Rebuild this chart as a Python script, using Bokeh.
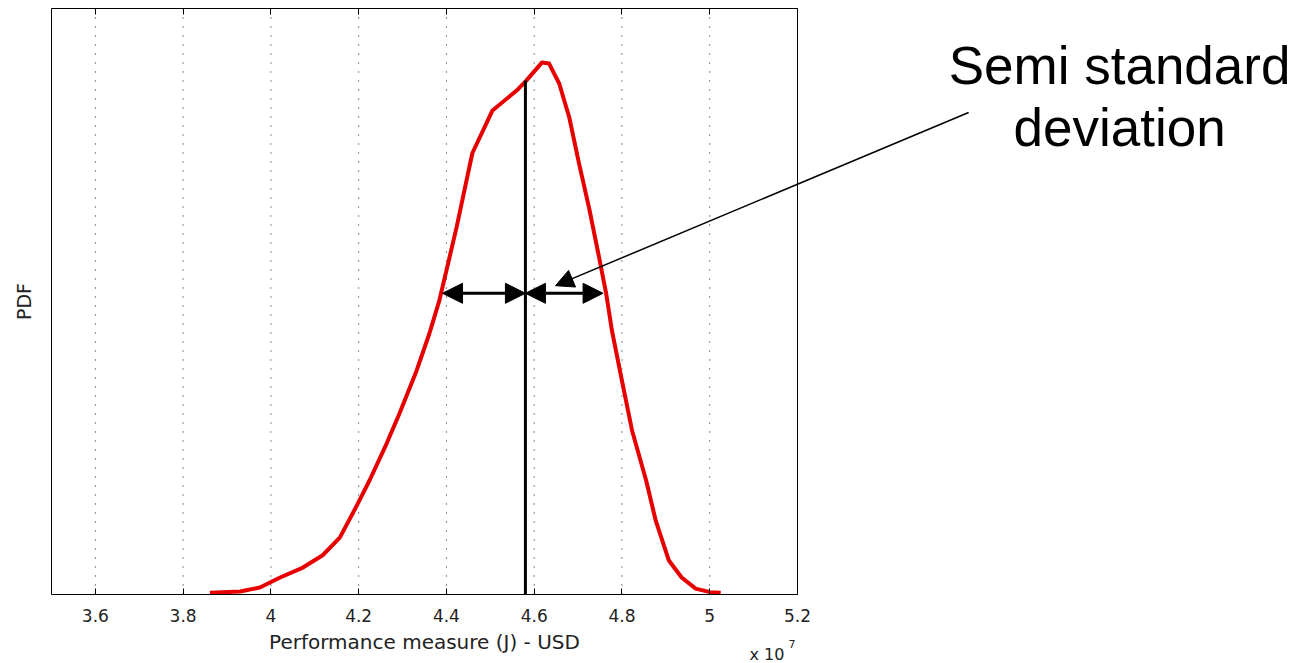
from bokeh.plotting import figure
from bokeh.models import (Range1d, LinearAxis, FixedTicker, Label, Arrow, NormalHead,
                          ColumnDataSource)
from bokeh.embed import file_html
from bokeh.resources import INLINE

# ---- data ----
pdf_x = [3.861, 3.930, 3.975, 4.021, 4.073, 4.118, 4.157, 4.196, 4.225, 4.264,
         4.293, 4.332, 4.361, 4.384, 4.423, 4.459, 4.505, 4.560, 4.582, 4.618,
         4.634, 4.657, 4.680, 4.702, 4.725, 4.748, 4.764, 4.777, 4.800, 4.823,
         4.855, 4.877, 4.907, 4.936, 4.968, 5.000, 5.025]
pdf_y = [0.003, 0.005, 0.012, 0.029, 0.046, 0.067, 0.097, 0.152, 0.195, 0.258,
         0.309, 0.382, 0.445, 0.502, 0.626, 0.753, 0.826, 0.860, 0.877, 0.908,
         0.906, 0.872, 0.814, 0.736, 0.660, 0.575, 0.514, 0.451, 0.365, 0.280,
         0.195, 0.126, 0.058, 0.029, 0.010, 0.004, 0.003]
mean_x = 4.58
mean_top = 0.877
arrow_y = 0.514
semi_left = 4.391
semi_right = 4.757
x_ticks = [3.6, 3.8, 4.0, 4.2, 4.4, 4.6, 4.8, 5.0, 5.2]
tick_labels = {3.6: "3.6", 3.8: "3.8", 4.0: "4", 4.2: "4.2", 4.4: "4.4",
               4.6: "4.6", 4.8: "4.8", 5.0: "5", 5.2: "5.2"}
x_lo, x_hi = 3.5, 5.2
y_lo, y_hi = 0.0, 1.0

AX_FONT = "DejaVu Sans"
ANN_FONT = "Liberation Sans"
TXT = "#222222"

# frame covers the whole canvas; the axes box is drawn with fixed-location axes
p = figure(width=1306, height=663, output_backend="svg", toolbar_location=None,
           x_range=Range1d(3.3838, 6.3600), y_range=Range1d(-0.11775, 1.01365),
           x_axis_location=None, y_axis_location=None, min_border=0,
           background_fill_color="white", border_fill_color="white")
p.outline_line_color = None
p.grid.visible = False

# bottom axis
xa = LinearAxis(fixed_location=y_lo, bounds=(x_lo, x_hi),
                ticker=FixedTicker(ticks=x_ticks), major_label_overrides=tick_labels,
                major_tick_in=6, major_tick_out=0, minor_tick_line_color=None,
                axis_line_color="black", major_tick_line_color="black",
                major_label_text_font=AX_FONT, major_label_text_font_size="17px",
                major_label_text_color=TXT, major_label_standoff=15,
                axis_label="Performance measure (J) - USD",
                axis_label_text_font=AX_FONT, axis_label_text_font_size="20px",
                axis_label_text_font_style="normal", axis_label_text_color=TXT,
                axis_label_standoff=4)
p.add_layout(xa, "below")

# top axis (ticks only)
ta = LinearAxis(fixed_location=y_hi, bounds=(x_lo, x_hi),
                ticker=FixedTicker(ticks=x_ticks),
                major_label_overrides={t: "" for t in x_ticks},
                major_tick_in=6, major_tick_out=0, minor_tick_line_color=None,
                axis_line_color="black", major_tick_line_color="black")
p.add_layout(ta, "above")

# left axis (label only)
ya = LinearAxis(fixed_location=x_lo, bounds=(y_lo, y_hi), ticker=FixedTicker(ticks=[]),
                major_tick_line_color=None, minor_tick_line_color=None,
                axis_line_color="black", axis_label="PDF",
                axis_label_text_font=AX_FONT, axis_label_text_font_size="19px",
                axis_label_text_font_style="normal", axis_label_text_color=TXT,
                axis_label_standoff=17)
p.add_layout(ya, "left")

# right edge of the box
ra = LinearAxis(fixed_location=x_hi, bounds=(y_lo, y_hi), ticker=FixedTicker(ticks=[]),
                major_tick_line_color=None, minor_tick_line_color=None,
                axis_line_color="black")
p.add_layout(ra, "right")

# dotted vertical grid lines at the x ticks
p.segment(x0=x_ticks[:-1], y0=[y_lo] * (len(x_ticks) - 1), x1=x_ticks[:-1],
          y1=[y_hi] * (len(x_ticks) - 1), line_color="#111111", line_dash="1 8",
          line_width=1)

src = ColumnDataSource(dict(x=pdf_x, y=pdf_y))
p.line("x", "y", source=src, line_color="#e60000", line_width=4, line_join="round")

p.segment(x0=[mean_x], y0=[y_lo], x1=[mean_x], y1=[mean_top], line_color="black",
          line_width=3)

head = dict(size=20, fill_color="black", line_color="black")
p.add_layout(Arrow(x_start=mean_x, y_start=arrow_y, x_end=semi_left, y_end=arrow_y,
                   line_width=3, start=NormalHead(**head), end=NormalHead(**head)))
p.add_layout(Arrow(x_start=mean_x, y_start=arrow_y, x_end=semi_right, y_end=arrow_y,
                   line_width=3, start=NormalHead(**head), end=NormalHead(**head)))

p.add_layout(Arrow(x_start=5.590, y_start=0.8225, x_end=4.6485, y_end=0.527,
                   line_width=1.5, end=NormalHead(size=18, fill_color="black",
                                                   line_color="black")))

p.add_layout(Label(x=5.934, y=0.9027, text="Semi standard", text_align="center",
                   text_baseline="alphabetic", text_font=ANN_FONT, text_font_size="53px",
                   text_color="black"))
p.add_layout(Label(x=5.934, y=0.7969, text="deviation", text_align="center",
                   text_baseline="alphabetic", text_font=ANN_FONT, text_font_size="53px",
                   text_color="black"))

p.add_layout(Label(x=5.0906, y=-0.1017, text="x 10", text_align="left",
                   text_baseline="alphabetic", text_font=AX_FONT, text_font_size="16px",
                   text_color=TXT))
p.add_layout(Label(x=5.1795, y=-0.0846, text="7", text_align="left",
                   text_baseline="alphabetic", text_font=AX_FONT, text_font_size="11px",
                   text_color=TXT))

open("out.html", "w").write(file_html(p, INLINE))
